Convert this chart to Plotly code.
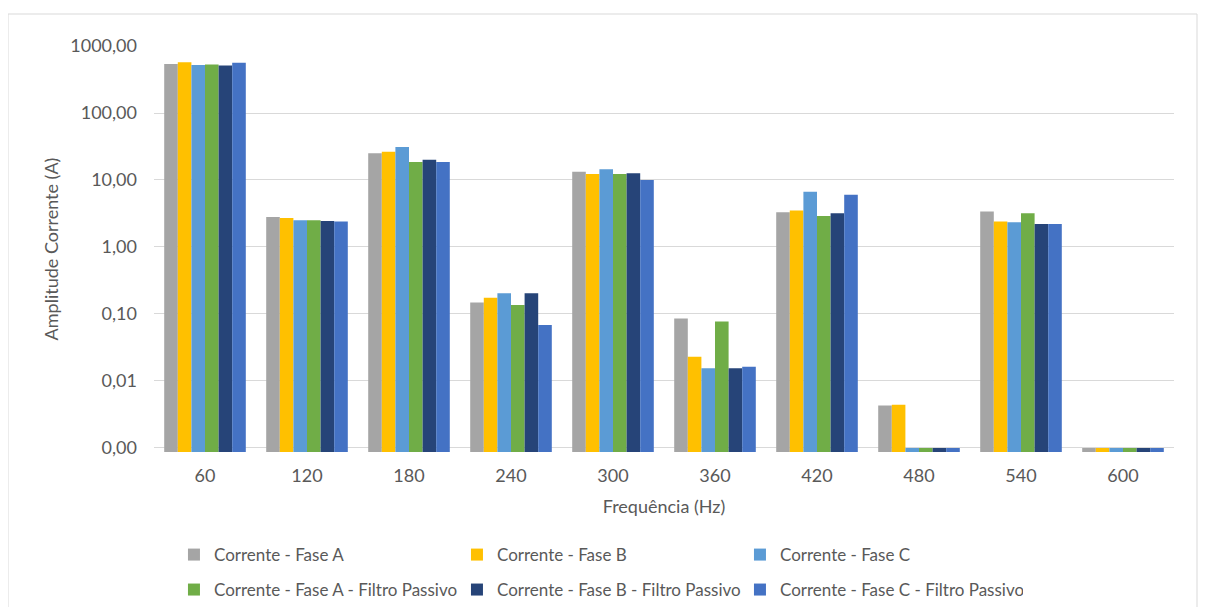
import plotly.graph_objects as go

freqs = ["60", "120", "180", "240", "300", "360", "420", "480", "540", "600"]
series_names = [
    "Corrente - Fase A",
    "Corrente - Fase B",
    "Corrente - Fase C",
    "Corrente - Fase A - Filtro Passivo",
    "Corrente - Fase B - Filtro Passivo",
    "Corrente - Fase C - Filtro Passivo",
]
fase_a = [540, 2.8, 25, 0.148, 13.3, 0.086, 3.3, 0.0043, 3.4, 0.001]
fase_b = [570, 2.7, 26.5, 0.175, 12.3, 0.023, 3.5, 0.0044, 2.4, 0.001]
fase_c = [520, 2.5, 31, 0.204, 14.5, 0.0155, 6.7, 0.001, 2.35, 0.001]
fase_a_fp = [530, 2.5, 18.6, 0.136, 12.3, 0.077, 2.9, 0.001, 3.2, 0.001]
fase_b_fp = [510, 2.45, 20, 0.204, 12.6, 0.0155, 3.2, 0.001, 2.2, 0.001]
fase_c_fp = [560, 2.4, 18.5, 0.0686, 10, 0.0163, 6.0, 0.001, 2.2, 0.001]
all_values = [fase_a, fase_b, fase_c, fase_a_fp, fase_b_fp, fase_c_fp]
colors = ["#A5A5A5", "#FFC000", "#5B9BD5", "#70AD47", "#264478", "#4472C4"]
y_tickvals = [0.001, 0.01, 0.1, 1, 10, 100, 1000]
y_ticktext = ["0,00", "0,01", "0,10", "1,00", "10,00", "100,00", "1000,00"]

FONT = "Lato, Carlito, Calibri, sans-serif"
GREY = "#595959"
FS = 18
LFS = 17

fig = go.Figure()
for i, (name, vals, col) in enumerate(zip(series_names, all_values, colors)):
    fig.add_trace(go.Bar(
        x=freqs, y=vals, name=name,
        marker=dict(color=col, line=dict(width=0)),
        legend="legend" if i < 3 else "legend2",
    ))

fig.update_layout(
    width=1207, height=607,
    paper_bgcolor="white", plot_bgcolor="white",
    barmode="group", bargap=0.2, bargroupgap=0.0,
    margin=dict(l=146, r=41, t=38, b=163, autoexpand=False),
    font=dict(family=FONT, size=FS, color=GREY),
    xaxis=dict(
        type="category", showgrid=False, zeroline=False, showline=False,
        ticks="", tickfont=dict(size=FS, color=GREY), ticklabelstandoff=11,
        title=dict(text="Frequência (Hz)", font=dict(size=FS, color=GREY), standoff=15),
    ),
    yaxis=dict(
        type="log", range=[-3.06, 3.0],
        tickvals=y_tickvals, ticktext=y_ticktext,
        showgrid=True, gridcolor="#d9d9d9", gridwidth=1,
        zeroline=False, showline=False, ticks="",
        tickfont=dict(size=FS, color=GREY), ticklabelstandoff=16,
        title=dict(text="Amplitude Corrente (A)", font=dict(size=FS, color=GREY), standoff=6),
    ),
    legend=dict(
        orientation="h", xref="container", yref="container",
        x=0.1375, y=0.0988, xanchor="left", yanchor="middle",
        entrywidth=238, entrywidthmode="pixels",
        font=dict(size=LFS, color=GREY), itemwidth=30,
    ),
    legend2=dict(
        orientation="h", xref="container", yref="container",
        x=0.1375, y=0.0412, xanchor="left", yanchor="middle",
        entrywidth=238, entrywidthmode="pixels",
        font=dict(size=LFS, color=GREY), itemwidth=30,
    ),
    shapes=[dict(
        type="rect", xref="paper", yref="paper",
        x0=(8 - 154) / 1020, x1=(1197 - 154) / 1020,
        y0=-0.5, y1=(452 - 14) / 406,
        line=dict(color="#d9d9d9", width=1), fillcolor="rgba(0,0,0,0)",
        layer="below",
    )],
)

fig.write_html("out.html")
